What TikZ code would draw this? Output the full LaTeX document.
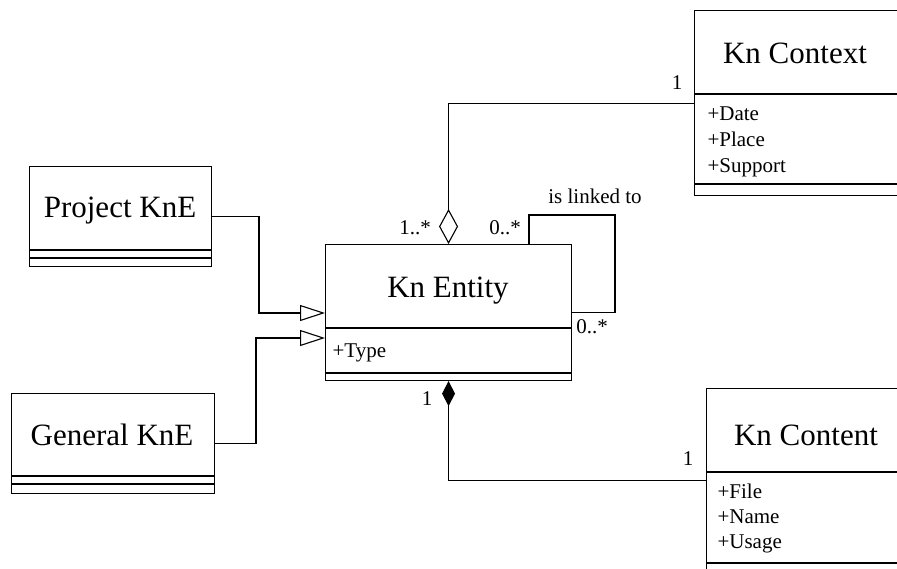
\documentclass[tikz,border=0pt]{standalone}
\usepackage{fontspec}
\setmainfont{LiberationSerif}[Extension=.ttf,UprightFont=*-Regular,BoldFont=*-Bold,ItalicFont=*-Italic,BoldItalicFont=*-BoldItalic]
\usetikzlibrary{arrows.meta}
\begin{document}
\begin{tikzpicture}[x=1pt,y=-1pt, line width=1.1pt,
  box/.style={draw, rectangle, inner sep=0pt, anchor=north west},
  title/.style={font=\fontsize{31}{36}\selectfont, anchor=base, inner sep=0pt},
  attr/.style={font=\fontsize{21}{25}\selectfont, anchor=base west, inner sep=0pt},
  lbl/.style={font=\fontsize{21}{25}\selectfont, anchor=base, inner sep=0pt},
  aggr/.style={-{Diamond[open,length=35pt,width=19pt]}},
  compo/.style={-{Diamond[length=25pt,width=13pt]}},
  gen/.style={-{Triangle[open,length=25pt,width=16pt]}}]
\useasboundingbox (0,0) rectangle (897,568);
\clip (0,0) rectangle (897,568);

% Kn Entity
\node[box, minimum width=246pt, minimum height=136pt] (entity) at (325,244) {};
\draw (325,328) -- (571,328);
\draw (325,373) -- (571,373);
\node[title] (entityT) at (448,297) {Kn Entity};
\node[attr] (entityA) at (332,357) {+Type};

% Kn Context
\node[box, minimum width=206pt, minimum height=185pt] (ctx) at (694,10) {};
\draw (694,94) -- (900,94);
\draw (694,184) -- (900,184);
\node[title] (ctxT) at (795,63) {Kn Context};
\node[attr] (ctxA1) at (707,120) {+Date};
\node[attr] (ctxA2) at (707,146) {+Place};
\node[attr] (ctxA3) at (707,172) {+Support};

% Kn Content
\node[box, minimum width=200pt, minimum height=184pt] (cnt) at (706,388) {};
\draw (706,472) -- (906,472);
\draw (706,563) -- (906,563);
\node[title] (cntT) at (806,445) {Kn Content};
\node[attr] (cntA1) at (717,498) {+File};
\node[attr] (cntA2) at (717,523) {+Name};
\node[attr] (cntA3) at (717,548) {+Usage};

% Project KnE
\node[box, minimum width=182pt, minimum height=100pt] (proj) at (29,166) {};
\draw (29,250) -- (211,250);
\draw (29,258) -- (211,258);
\node[title] (projT) at (120,217) {Project KnE};

% General KnE
\node[box, minimum width=203pt, minimum height=100pt] (gene) at (11,393) {};
\draw (11,476) -- (214,476);
\draw (11,484) -- (214,484);
\node[title] (geneT) at (112,445) {General KnE};

% connectors
\draw[aggr] (ctx.west) -| (entity.north);
\draw[compo] (cnt.west) -| (entity.south);
\draw (entity.north -| 529,0) |- (615,215) |- (entity.east);
\draw[gen] (proj.east) -| (259,313) -- (entity.west |- 0,313);
\draw[gen] (gene.east) -| (256,338) -- (entity.west |- 0,338);

% labels
\node[lbl] (m1) at (677,89) {1};
\node[lbl] (m2) at (415,234) {1..*};
\node[lbl] (m3) at (505,234) {0..*};
\node[lbl] (m4) at (595,203) {is linked to};
\node[lbl] (m5) at (592,333) {0..*};
\node[lbl] (m6) at (427,405) {1};
\node[lbl] (m7) at (688,465) {1};
\end{tikzpicture}
\end{document}
